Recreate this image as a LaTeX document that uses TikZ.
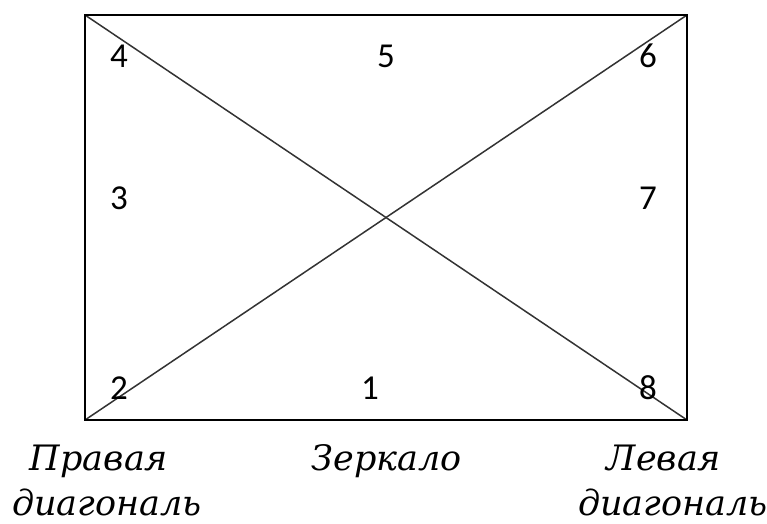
\documentclass[tikz,border=0pt]{standalone}
\usepackage{fontspec}
\setmainfont{Liberation Serif}
\newfontfamily\numfont{Carlito}
\newfontfamily\lblfont{DejaVu Serif}
\begin{document}
\begin{tikzpicture}[x=1pt,y=-1pt,
  num/.style={font=\numfont\fontsize{35}{35}\selectfont, inner sep=0pt, anchor=center},
  lbl/.style={font=\lblfont\itshape\fontsize{35}{35}\selectfont, inner sep=0pt, anchor=base},
  frame/.style={line width=2.2pt},
  diag/.style={line width=1.5pt, draw=black!80}]
\useasboundingbox (0,0) rectangle (767,523);
\coordinate (tl) at (85,15);
\coordinate (tr) at (687,15);
\coordinate (bl) at (85,420);
\coordinate (br) at (687,420);
\draw[diag] (tl) -- (br);
\draw[diag] (bl) -- (tr);
\draw[frame] (tl) -- (tr) -- (br) -- (bl) -- cycle;
\node[num] (n4) at (119,56) {4};
\node[num] (n5) at (386,56) {5};
\node[num] (n6) at (648,56) {6};
\node[num] (n3) at (119,198) {3};
\node[num] (n7) at (648,198) {7};
\node[num] (n2) at (119,388) {2};
\node[num] (n1) at (370,388) {1};
\node[num] (n8) at (648,388) {8};
\node[lbl] (pr) at (99,470) {Правая};
\node[lbl] (pd) at (107,515) {диагональ};
\node[lbl] (zk) at (387,470) {Зеркало};
\node[lbl] (lv) at (664,470) {Левая};
\node[lbl] (ld) at (673,515) {диагональ};
\end{tikzpicture}
\end{document}
